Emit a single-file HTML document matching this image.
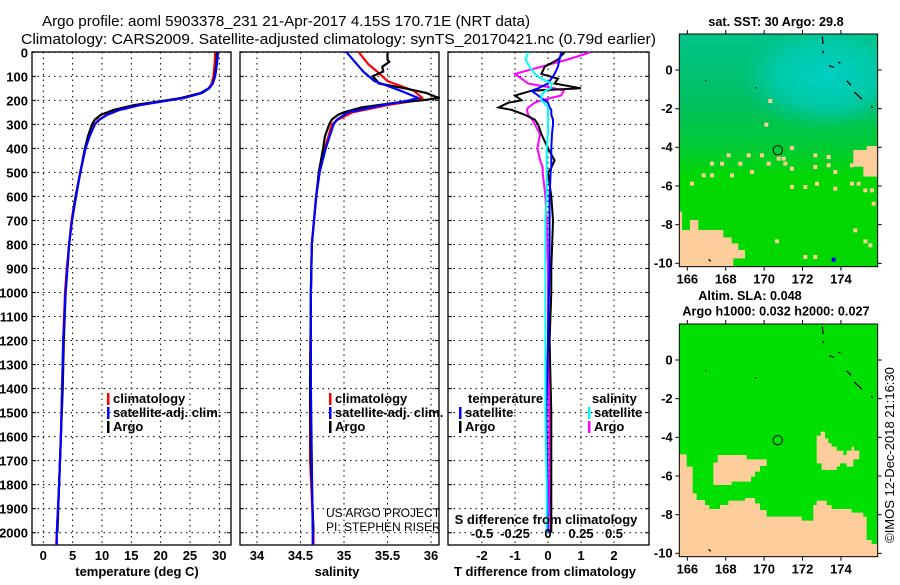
<!DOCTYPE html>
<html><head><meta charset="utf-8"><style>
body{margin:0;background:#fff;}
svg text{font-family:"Liberation Sans",sans-serif;}
</style></head><body>
<svg id="fig" width="900" height="580" viewBox="0 0 900 580" xmlns="http://www.w3.org/2000/svg">
<text x="42" y="26" font-size="15" textLength="488" lengthAdjust="spacingAndGlyphs">Argo profile: aoml 5903378_231 21-Apr-2017 4.15S 170.71E (NRT data)</text>
<text x="21" y="44" font-size="15" textLength="635" lengthAdjust="spacingAndGlyphs">Climatology: CARS2009. Satellite-adjusted climatology: synTS_20170421.nc (0.79d earlier)</text>
<g id="panels"></g>
<g id="maps"></g>
<text transform="translate(894,455) rotate(-90)" font-size="13" text-anchor="middle">©IMOS 12-Dec-2018 21:16:30</text>
</svg>
<script>
// ---- data ----
const depthTicks=[0,100,200,300,400,500,600,700,800,900,1000,1100,1200,1300,1400,1500,1600,1700,1800,1900,2000];
const tTicks=[0,5,10,15,20,25,30];
const sTicks=[34,34.5,35,35.5,36];
const dTTicks=[-2,-1,0,1,2];
const dSTicks=[-0.5,-0.25,0,0.25,0.5];
const tDepth=[0,50,100,130,150,170,190,200,220,240,260,280,300,350,400,500,600,700,800,900,1000,1200,1400,1600,1800,2000,2050];
const tArgo=[29.6,29.5,29.2,28.9,28.2,26.8,23.5,21,15.5,12,9.8,8.8,8.3,7.6,7.1,6.3,5.5,4.9,4.4,4.1,3.8,3.5,3.3,3.0,2.7,2.4,2.4];
const tClim=[29.3,29.2,29.0,28.7,28.2,27.0,24.0,21.5,16.5,13,10.8,9.5,8.7,7.8,7.2,6.3,5.5,4.8,4.4,4.0,3.7,3.4,3.2,3.0,2.7,2.3,2.2];
const tSat=[29.8,29.6,29.3,28.9,28.3,27.0,24.0,21.5,16.5,13,10.9,9.6,8.8,7.9,7.2,6.3,5.6,4.9,4.4,4.1,3.8,3.4,3.2,3.0,2.7,2.3,2.3];
const sArgoDepth=[0,30,40,60,80,100,120,130,150,170,185,190,200,210,230,250,260,280,300,350,400,500,600,800,1000,1400,1700,2000];
const sArgo=[35.5,35.5,35.52,35.44,35.45,35.33,35.38,35.4,35.7,35.95,36.05,36.1,35.9,35.6,35.2,35.0,34.93,34.86,34.83,34.78,34.76,34.71,34.68,34.63,34.62,34.61,34.62,34.65];
const sDepth=[0,50,80,120,160,190,200,220,250,280,300,400,500,600,800,1000,1400,1700,2000,2050];
const sClim=[35.17,35.28,35.38,35.5,35.8,35.9,35.85,35.5,35.1,34.93,34.86,34.78,34.72,34.68,34.63,34.62,34.61,34.61,34.65,34.65];
const sSat=[35.03,35.15,35.22,35.35,35.65,35.85,35.75,35.45,35.05,34.92,34.88,34.79,34.72,34.68,34.63,34.62,34.62,34.63,34.64,34.64];
const dDepth=[0,30,60,90,110,130,150,160,180,200,210,230,240,260,280,300,340,400,450,480,500,600,700,900,1000,1200,1500,1800,2000];
const dTArgo=[0.5,0.3,-0.1,-0.2,0.3,0.2,1.0,-0.5,-1.0,-0.8,-1.2,-1.5,-1.1,-0.7,-0.4,-0.3,-0.2,0,0.2,0.1,0,0.1,0.15,0.1,0.1,0.05,0.1,0.1,0.1];
const dTSat=[0.4,0.35,0.3,0.2,0.1,0.0,-0.3,-0.5,-0.3,-0.1,0,0.05,0.1,0.1,0.15,0.15,0.12,0.1,0.1,0.1,0.08,0.05,0.05,0.05,0.03,0,-0.05,-0.02,0];
const dSArgo=[0.32,0.15,-0.05,-0.25,-0.2,-0.15,0.05,0.12,0.1,-0.05,-0.1,-0.15,-0.16,-0.15,-0.12,-0.1,-0.06,-0.08,-0.06,-0.04,-0.04,-0.02,-0.01,0,0,0,0.01,0.01,0.02];
const dSSat=[-0.15,-0.17,-0.14,-0.1,-0.05,0.03,0.02,-0.02,-0.05,-0.05,-0.03,0,0,0,0,0,0,-0.01,-0.01,-0.01,-0.01,-0.01,-0.02,-0.02,-0.02,-0.02,-0.02,-0.01,-0.01];
const lonTicks=[166,168,170,172,174];
const latTicks=[0,-2,-4,-6,-8,-10];

const NS="http://www.w3.org/2000/svg";
function el(tag,attrs,parent,txt){const e=document.createElementNS(NS,tag);for(const k in attrs)e.setAttribute(k,attrs[k]);if(txt!==undefined)e.textContent=txt;parent.appendChild(e);return e;}
const yD=d=>52.3+d*0.2402;
const PT=document.getElementById('panels');
function panel(name,x0,x1,xs,ticks,fmt){
  const g=el('g',{},PT);
  
  
  depthTicks.forEach(d=>{el('line',{x1:x0,x2:x1,y1:yD(d),y2:yD(d),stroke:'#000','stroke-dasharray':'1.5,4'},g);
    el('line',{x1:x0,x2:x0+4,y1:yD(d),y2:yD(d),stroke:'#000'},g);el('line',{x1:x1-4,x2:x1,y1:yD(d),y2:yD(d),stroke:'#000'},g);});
  ticks.forEach(t=>{el('line',{x1:xs(t),x2:xs(t),y1:52,y2:545,stroke:'#000','stroke-dasharray':'1.5,4'},g);
    const lb=el('text',{x:xs(t),y:560,'font-size':13,'font-weight':'bold','text-anchor':'middle'},g,fmt(t));
    
    });
  el('rect',{x:x0,y:52,width:x1-x0,height:493,fill:'none',stroke:'#000','stroke-width':1.3},g);
  return g;
}
function line(g,xs,xv,dv,color,name,w){
  const p=dv.map((d,i)=>xs(xv[i]).toFixed(1)+','+yD(d).toFixed(1)).join(' ');
  const pl=el('polyline',{points:p,fill:'none',stroke:color,'stroke-width':w||2.2},g);
  
  
}
function legend(g,x,y,items){items.forEach((it,i)=>{el('rect',{x:x,y:y+i*14-10,width:2.5,height:12,fill:it[1]},g);
  el('text',{x:x+6,y:y+i*14,'font-size':13,'font-weight':'bold'},g,it[0]);});}

const xT=t=>43.3+t*5.866;
const g1=panel('temperature-panel',32,231,xT,tTicks,t=>t);
depthTicks.forEach(d=>{const t=el('text',{x:28,y:yD(d)+5,'font-size':13,'font-weight':'bold','text-anchor':'end'},g1,d);
  
  });
line(g1,xT,tClim,tDepth,'#f00','temp-climatology-line');
line(g1,xT,tArgo,tDepth.slice(0,26),'#000','temp-argo-line');
line(g1,xT,tSat,tDepth,'#00f','temp-satellite-line');
legend(g1,107,403,[['climatology','#f00'],['satellite-adj. clim.','#00f'],['Argo','#000']]);
el('text',{x:137,y:576,'font-size':13,'font-weight':'bold','text-anchor':'middle'},g1,'temperature (deg C)');

const xS=s=>257+(s-34)*87;
const g2=panel('salinity-panel',240,439,xS,sTicks,s=>s);
line(g2,xS,sClim,sDepth,'#f00','sal-climatology-line');
line(g2,xS,sArgo,sArgoDepth,'#000','sal-argo-line');
line(g2,xS,sSat,sDepth,'#00f','sal-satellite-line');
legend(g2,329,403,[['climatology','#f00'],['satellite-adj. clim.','#00f'],['Argo','#000']]);
el('text',{x:326,y:517,'font-size':12},g2,'US ARGO PROJECT');
el('text',{x:326,y:531,'font-size':12},g2,'PI: STEPHEN RISER');
el('text',{x:337,y:576,'font-size':13,'font-weight':'bold','text-anchor':'middle'},g2,'salinity');

const xdT=v=>548+v*33;
const xdS=v=>548+v*132;
const g3=panel('difference-panel',448,649,xdT,dTTicks,t=>t);
line(g3,xdS,dSArgo,dDepth,'#f0f','sdiff-argo-line',2);
line(g3,xdT,dTArgo,dDepth,'#000','tdiff-argo-line',2);
line(g3,xdT,dTSat,dDepth,'#00f','tdiff-satellite-line',2);
line(g3,xdS,dSSat,dDepth,'#0ff','sdiff-satellite-line',2);
el('text',{x:468,y:403,'font-size':13,'font-weight':'bold'},g3,'temperature');
legend(g3,459,417,[['satellite','#00f'],['Argo','#000']]);
el('text',{x:592,y:403,'font-size':13,'font-weight':'bold'},g3,'salinity');
legend(g3,588,417,[['satellite','#0ff'],['Argo','#f0f']]);
el('text',{x:546,y:524,'font-size':13,'font-weight':'bold','text-anchor':'middle'},g3,'S difference from climatology');
dSTicks.forEach(v=>{el('text',{x:xdS(v),y:538,'font-size':13,'font-weight':'bold','text-anchor':'middle'},g3,String(v));});
el('text',{x:545,y:576,'font-size':13,'font-weight':'bold','text-anchor':'middle'},g3,'T difference from climatology');

// ---- maps ----
const MP=document.getElementById('maps');
function mapFrame(name,oy,id){
  const s=el('svg',{x:650,y:oy,width:250,height:290,viewBox:'0 0 750 870'},MP);
  
  
  const d=el('defs',{},s);
  const cp=el('clipPath',{id:id},d);
  el('rect',{x:88,y:102,width:595,height:698},cp);
  const g=el('g',{'clip-path':'url(#'+id+')'},s);
  return [s,g,d];
}
const lonX=l=>112+(l-166)*57.6;
const latY=l=>210-l*58;
function mapAxes(s){
  el('rect',{x:88,y:102,width:595,height:698,fill:'none',stroke:'#000','stroke-width':3},s);
  lonTicks.forEach(l=>{el('line',{x1:lonX(l),x2:lonX(l),y1:800,y2:812,stroke:'#000','stroke-width':3},s);
    el('line',{x1:lonX(l),x2:lonX(l),y1:90,y2:102,stroke:'#000','stroke-width':3},s);
    el('text',{x:lonX(l),y:850,'font-size':39,'font-weight':'bold','text-anchor':'middle'},s,l);});
  latTicks.forEach(l=>{el('line',{x1:76,x2:88,y1:latY(l),y2:latY(l),stroke:'#000','stroke-width':3},s);
    el('line',{x1:683,x2:695,y1:latY(l),y2:latY(l),stroke:'#000','stroke-width':3},s);
    el('text',{x:68,y:latY(l)+13,'font-size':39,'font-weight':'bold','text-anchor':'end'},s,l);});
  el('circle',{cx:lonX(170.71),cy:latY(-4.15),r:14,fill:'none',stroke:'#000','stroke-width':3},s);
  const coast=[[517,110,519,132],[518,152,520,160],[537,197,552,202],[565,186,571,190],[590,242,603,256],[613,276,636,298],[664,318,668,323],[166,241,168,243],[316,262,318,265],[176,778,182,784]];
  coast.forEach(c=>el('line',{x1:c[0],y1:c[1],x2:c[2],y2:c[3],stroke:'#000','stroke-width':4},s));
}
const tan='#fccc9a';
// top SST map
const [m1,c1,d1]=mapFrame('sst-map',0,'clipTop');
const lg=el('linearGradient',{id:'sstv',x1:0,y1:0,x2:0,y2:1},d1);
el('stop',{offset:'0','stop-color':'#00c48a'},lg);el('stop',{offset:'0.3','stop-color':'#00c060'},lg);el('stop',{offset:'0.5','stop-color':'#00cc30'},lg);el('stop',{offset:'0.62','stop-color':'#00d800'},lg);el('stop',{offset:'1','stop-color':'#00d800'},lg);
const rg=el('radialGradient',{id:'sstr',cx:0.5,cy:0.5,r:0.5},d1);
el('stop',{offset:'0','stop-color':'#00d0c4','stop-opacity':1},rg);el('stop',{offset:'0.6','stop-color':'#00ccb8','stop-opacity':0.75},rg);el('stop',{offset:'1','stop-color':'#00c8a0','stop-opacity':0},rg);
el('rect',{x:88,y:102,width:595,height:698,fill:'url(#sstv)'},c1);
el('ellipse',{cx:530,cy:230,rx:260,ry:160,fill:'url(#sstr)'},c1);
el('polygon',{points:'88,690 120,690 120,660 145,660 145,690 220,690 220,712 245,712 245,730 265,730 265,750 285,750 285,775 250,775 250,800 88,800',fill:tan},c1);
el('rect',{x:88,y:635,width:8,height:60,fill:tan},c1);
el('polygon',{points:'610,450 650,450 650,438 683,438 683,530 640,530 640,500 610,500',fill:tan},c1);
const cells=[[355,297],[343,368],[420,438],[290,460],[330,460],[350,485],[400,485],[420,500],[265,485],[180,485],[210,485],[155,520],[180,520],[240,520],[300,510],[490,460],[530,465],[530,490],[490,495],[550,510],[600,545],[620,545],[640,565],[660,565],[120,545],[420,555],[460,555],[495,545],[550,560],[665,605],[375,718],[610,685],[640,718],[655,730],[460,765],[490,765],[380,470],[395,470],[230,460],[600,490]];
cells.forEach(c=>el('rect',{x:c[0],y:c[1],width:12,height:12,fill:tan},c1));
el('rect',{x:545,y:773,width:12,height:12,fill:'#0000ff'},c1);
el('text',{x:378,y:78,'font-size':38,'font-weight':'bold','text-anchor':'middle'},m1,'sat. SST: 30 Argo: 29.8');
mapAxes(m1);
// bottom SLA map
const [m2,c2]=mapFrame('sla-map',290,'clipBot');
el('rect',{x:88,y:102,width:595,height:698,fill:'#00e000'},c2);
el('polygon',{points:'88,493 110,493 110,530 128,530 128,610 140,610 140,630 165,630 165,645 178,645 178,657 210,657 210,645 235,645 235,632 285,632 285,624 315,624 315,640 330,640 330,660 350,660 350,680 455,680 455,692 490,692 490,645 500,645 500,632 530,632 530,645 545,645 545,657 605,657 605,668 640,668 640,680 650,680 650,750 665,750 665,762 683,762 683,800 88,800',fill:tan},c2);
el('polygon',{points:'190,518 203,518 203,495 290,495 290,508 350,508 350,528 330,528 330,545 315,545 315,560 303,560 303,575 245,575 245,585 190,585',fill:tan},c2);
el('polygon',{points:'500,437 512,437 512,425 525,425 525,445 535,445 535,460 545,460 545,470 560,470 560,482 580,482 580,495 590,495 590,482 605,482 605,470 612,470 612,482 628,482 628,508 610,508 610,530 590,530 590,520 570,520 570,530 560,530 560,540 515,540 515,520 500,520',fill:tan},c2);
el('text',{x:300,y:30,'font-size':38,'font-weight':'bold','text-anchor':'middle'},m2,'Altim. SLA: 0.048');
el('text',{x:378,y:76,'font-size':38,'font-weight':'bold','text-anchor':'middle'},m2,'Argo h1000: 0.032 h2000: 0.027');
mapAxes(m2);
</script>
</body></html>
